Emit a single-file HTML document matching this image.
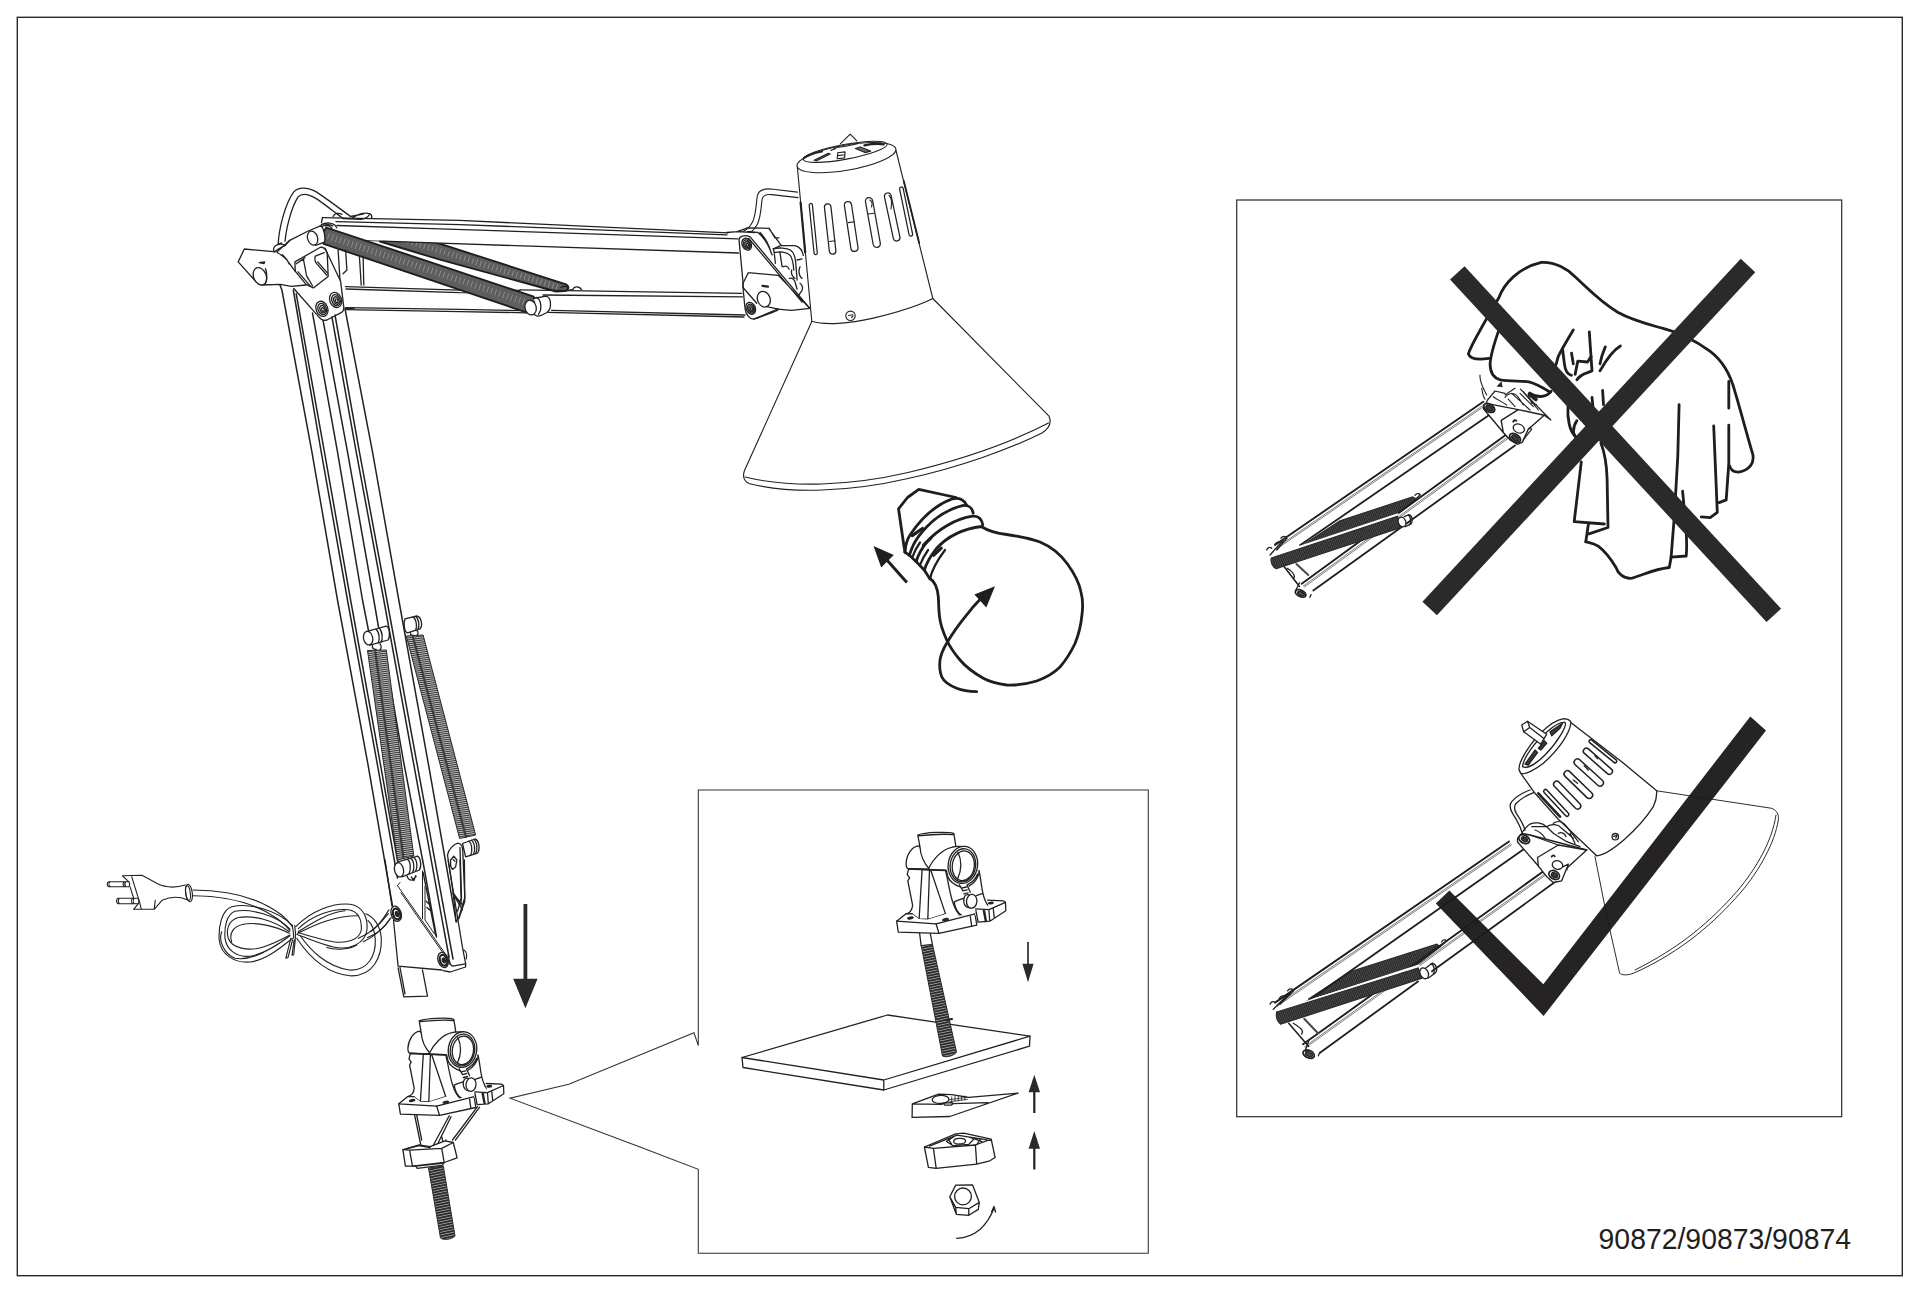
<!DOCTYPE html>
<html><head><meta charset="utf-8"><title>90872/90873/90874</title>
<style>
html,body{margin:0;padding:0;background:#fff;}
body{width:1920px;height:1294px;overflow:hidden;position:relative;font-family:"Liberation Sans",sans-serif;}
svg{position:absolute;left:0;top:0;display:block}
.l{fill:none;stroke:#222120;stroke-width:1.3;stroke-linecap:round;stroke-linejoin:round}
.t{fill:none;stroke:#2b2a29;stroke-width:0.8;stroke-linecap:round;stroke-linejoin:round}
.w{fill:#fff;stroke:#222120;stroke-width:1.3;stroke-linecap:round;stroke-linejoin:round}
.thin .l,.thin .w{stroke-width:1.12}
.bold .l,.bold .w{stroke-width:1.5}
.f{fill:none;stroke:#2b2a29;stroke-width:1.4}
.b{fill:none;stroke:#1f1e1d;stroke-width:2.8;stroke-linecap:round;stroke-linejoin:round}
.bw{fill:#fff;stroke:#1f1e1d;stroke-width:2.6;stroke-linecap:round;stroke-linejoin:round}
.k{fill:#2b2a29;stroke:none}
.sp{fill:#5f5e5d;stroke:#1f1e1d;stroke-width:1.9;stroke-linejoin:round}
.sp2{fill:url(#hatch2);stroke:#2b2a29;stroke-width:1}
.sp3{fill:url(#hatch3);stroke:#2b2a29;stroke-width:1.2}
.sd{fill:#3a3938;stroke:#2b2a29;stroke-width:1}
.num{font-family:"Liberation Sans",sans-serif;font-size:29px;fill:#1f1e1d}
</style></head><body>
<svg width="1920" height="1294" viewBox="0 0 1920 1294">
<defs>
<pattern id="hatch" width="1.9" height="4" patternUnits="userSpaceOnUse" patternTransform="rotate(18.4)"><rect width="1.9" height="4" fill="#807f7e"/><rect width="1.15" height="4" fill="#343332"/></pattern>
<pattern id="hatch2" width="4" height="2" patternUnits="userSpaceOnUse" patternTransform="rotate(-8)"><rect width="4" height="2" fill="#c4c4c4"/><rect width="4" height="1.0" fill="#333231"/></pattern>
<pattern id="thread" width="6" height="2.6" patternUnits="userSpaceOnUse" patternTransform="rotate(-12)"><rect width="6" height="2.6" fill="#9a9a9a"/><rect width="6" height="1.7" fill="#2b2a29"/></pattern>
<pattern id="hatch3" width="2" height="4" patternUnits="userSpaceOnUse" patternTransform="rotate(-22)"><rect width="2" height="4" fill="#6a6968"/><rect width="1.45" height="4" fill="#262524"/></pattern>
</defs>
<rect class="f" x="17.3" y="17.3" width="1885" height="1258.4"/>
<rect class="f" x="1236.7" y="200" width="605" height="916.7" style="stroke-width:1.2"/>
<path class="l" d="M 698.3,1045.6 L 698.3,790.0 L 1148.3,790.0 L 1148.3,1253.3 L 698.3,1253.3 L 698.3,1169.3 L 640.0,1147.0 L 510.0,1098.2 L 568.8,1084.2 L 694.0,1032.8 L 698.3,1045.6" style="stroke-width:1.05;stroke:#333231;stroke-linecap:butt;stroke-linejoin:miter"/>
<text class="num" x="1598.6" y="1249.2" textLength="252.4" lengthAdjust="spacingAndGlyphs">90872/90873/90874</text>
<g class="thin">
<path class="w" d="M 811.8,321.5 L 744.5,470.5 C 742.5,476.0 744.0,481.0 749.0,483.5 C 790.0,494.0 850.0,492.0 908.0,478.5 C 960.0,467.0 1010.0,449.0 1042.0,433.0 C 1049.0,428.5 1052.0,423.0 1049.0,416.2 L 932.8,298.5"/>
<path class="l" d="M 745.0,477.0 C 790.0,488.0 850.0,486.0 908.0,472.5 C 960.0,460.0 1010.0,443.0 1048.5,423.0"/>
<path class="w" d="M 797.3,166.5 L 811.8,321.3 C 825.0,325.5 850.0,323.5 872.2,318.4 C 895.0,313.0 918.0,306.0 932.8,298.5 L 896.0,150.5 Z"/>
<path class="l" d="M 903.8,181.0 L 919.2,243.0" style="stroke-width:1.8"/>
<ellipse class="w" cx="846.5" cy="157.6" rx="50.2" ry="12.6" transform="rotate(-9.9 846.5 157.6)"/>
<ellipse class="l" cx="845.2" cy="151.8" rx="42.6" ry="7.4" transform="rotate(-10.4 845.2 151.8)"/>
<path class="l" d="M 840.3,143.9 L 850.2,134.1 L 856.8,140.9"/>
<path class="l" d="M 804.0,157.9 C 808.3,155.1 815.8,152.5 822.0,151.4" style="stroke-width:2"/>
<path class="l" d="M 814.1,160.2 L 828.3,153.2 L 830.2,154.1 L 816.6,160.8 Z" style="fill:#6a6968"/>
<path class="l" d="M 837.7,152.8 L 845.1,151.9 L 844.6,157.9 L 837.2,158.8 Z M 837.7,155.6 L 844.9,154.7"/>
<path class="l" d="M 830.9,150.4 L 836.6,147.5 C 842.2,146.9 847.9,145.9 851.7,145.0 L 857.5,143.6 M 836.6,147.5 L 834.2,149.4"/>
<path class="l" d="M 855.4,148.5 L 860.1,147.0 L 870.7,151.1 L 865.0,152.6 Z" style="fill:#6a6968"/>
<path class="l" d="M 864.4,145.3 C 870.5,144.1 878.1,143.6 883.7,144.3" style="stroke-width:2.2"/>
<circle class="l" cx="850.5" cy="315.8" r="4.7"/>
<path class="l" d="M 848.5,315.5 L 852.8,314.8 M 851.5,317.6 L 853.0,316.0"/>
<path class="l" style="stroke-width:1.25" d="M809.2,205.3 L814.1,253.2 A1.6,1.6 0 0 0 817.3,252.8 L812.4,204.9 A1.6,1.6 0 0 0 809.2,205.3 Z"/>
<path class="l" style="stroke-width:1.25" d="M824.4,207.1 L829.4,251.7 A3.3,3.3 0 0 0 835.9,251.0 L830.9,206.4 A3.3,3.3 0 0 0 824.4,207.1 Z"/>
<path class="l" style="stroke-width:1.25" d="M844.4,205.6 L850.9,248.6 A3.6,3.6 0 0 0 858.0,247.5 L851.5,204.5 A3.6,3.6 0 0 0 844.4,205.6 Z"/>
<path class="l" style="stroke-width:1.25" d="M865.5,201.8 L873.2,244.5 A3.6,3.6 0 0 0 880.3,243.2 L872.6,200.5 A3.6,3.6 0 0 0 865.5,201.8 Z"/>
<path class="l" style="stroke-width:1.25" d="M884.4,196.6 L893.4,238.7 A3.4,3.4 0 0 0 900.0,237.3 L891.0,195.2 A3.4,3.4 0 0 0 884.4,196.6 Z"/>
<path class="l" style="stroke-width:1.25" d="M899.6,188.9 L909.1,234.9 A1.8,1.8 0 0 0 912.6,234.2 L903.1,188.2 A1.8,1.8 0 0 0 899.6,188.9 Z"/>
<path class="l" d="M 800.6,202.5 L 805.2,252.5" style="stroke-width:2.2"/>
<path class="l" d="M 829.5,241.5 L 835.0,240.8 M 848.3,222.6 L 854.3,221.8 M 868.0,214.0 L 874.0,213.2 M 869.8,200.0 C 872.0,201.0 872.5,204.0 871.5,207.0 M 889.0,195.5 C 891.5,197.5 892.0,203.0 891.0,209.0"/>
<path class="l" d="M 797.5,192.1 L 773.3,189.2 C 765.0,188.2 758.5,189.5 757.3,196.0 C 756.0,204.0 756.3,214.0 752.5,222.0 C 750.0,227.0 747.5,229.5 743.0,231.5"/>
<path class="l" d="M 798.0,197.6 L 771.7,194.6 C 766.0,194.0 762.5,195.5 762.0,200.0 C 761.0,208.0 761.0,216.0 757.5,224.0 C 755.5,228.0 753.5,230.5 750.5,232.5"/>
</g>
<path class="sp" d="M 380.0,224.5 L 566.0,284.3 C 569.5,286.0 569.0,290.0 565.0,291.0 L 556.0,291.5 L 440.0,259.7 L 380.0,241.5 Z"/>
<path class="l" d="M 384.0,233.5 L 560.0,288.0" style="stroke:#908f8e;stroke-width:6;stroke-dasharray:0.9 3.3;stroke-linecap:butt"/>
<path class="w" d="M 322.5,217.6 L 728.0,232.8 L 738.5,238.5 L 738.5,253.0 L 440.0,243.0 L 336.0,239.0 Z" style="stroke:none"/>
<path class="l" d="M 322.5,217.6 L 459.6,220.4 L 728.0,232.8"/>
<path class="l" d="M 336.0,221.6 L 460.0,224.6 L 727.0,234.8"/>
<path class="l" d="M 337.0,225.5 L 440.0,228.8 L 738.0,238.8"/>
<path class="l" d="M 383.0,241.2 L 440.0,243.2 L 738.5,253.0"/>
<path class="l" d="M 336.0,239.3 L 383.0,241.2" style="stroke-width:0.8"/>
<path class="l" d="M 345.5,286.6 L 459.6,290.2 L 520.0,290.3"/>
<path class="l" d="M 346.0,289.0 L 459.6,292.7 L 521.0,293.2"/>
<path class="l" d="M 345.5,307.6 L 459.6,309.4 L 524.0,310.6"/>
<path class="l" d="M 346.0,309.6 L 459.6,311.6 L 526.0,312.8"/>
<path class="l" d="M 520.0,289.8 L 741.7,293.4"/>
<path class="l" d="M 543.0,295.0 L 742.5,296.8"/>
<path class="l" d="M 551.7,310.4 L 745.0,315.0"/>
<path class="l" d="M 548.0,312.3 L 744.0,317.0"/>
<path class="sp" d="M 326.3,227.6 L 533.0,296.3 C 536.0,298.0 535.5,301.0 533.0,303.0 L 527.0,312.6 L 323.6,243.8 C 321.0,240.0 322.0,232.0 326.3,227.6 Z"/>
<path class="l" d="M 328.0,236.0 L 529.0,303.5" style="stroke:#908f8e;stroke-width:6.5;stroke-dasharray:0.9 3.3;stroke-linecap:butt"/>
<path class="l" d="M 400.0,248.0 L 566.0,303.0" style="stroke:#222;stroke-width:1.2;stroke-dasharray:2.2 3.4;display:none"/>
<ellipse class="w" cx="537.5" cy="309.0" rx="5.6" ry="7.2" transform="rotate(-15 537.5 309.0)"/>
<path class="w" d="M 533.5,298.5 L 546.0,296.2 C 551.0,297.0 552.5,308.0 547.0,312.5 L 541.0,315.5" style="fill:#fff"/>
<ellipse class="w" cx="530.6" cy="307.6" rx="5.6" ry="7.4" transform="rotate(-15 530.6 307.6)"/>
<path class="l" d="M 536.5,297.3 C 541.0,299.0 542.5,309.0 538.5,314.2"/>
<path class="l" d="M 561.0,287.5 C 563.0,285.8 567.0,286.0 568.5,288.0 M 573.0,289.3 C 574.0,286.0 579.5,286.0 581.5,289.6 M 566.0,290.8 L 573.0,289.3"/>
<path class="l" d="M 278.1,245.0 C 278.8,228.8 285.0,203.8 293.8,191.9 C 300.0,185.0 312.5,188.8 320.0,194.4 C 330.0,201.2 340.0,208.8 350.6,216.5"/>
<path class="l" d="M 285.0,243.1 C 285.6,230.0 291.2,207.5 298.1,196.9 C 302.5,191.9 311.2,195.0 317.5,199.4 C 326.2,205.6 335.0,212.5 343.1,218.5"/>
<path class="l" d="M 333.1,216.5 C 334.4,213.1 338.8,212.5 341.9,214.4 M 352.5,218.1 C 357.5,213.8 365.0,211.9 370.0,213.8 C 371.9,215.0 372.2,216.5 371.5,218.1 M 350.6,216.5 L 363.8,213.8 M 343.1,218.5 L 361.2,219.4 C 365.0,218.8 368.1,217.5 370.0,213.8"/>
<path class="w" d="M 238.8,260.2 L 245.0,249.0 L 273.8,251.5 L 275.6,246.0 L 290.0,239.5 L 307.5,232.2 L 320.0,243.8 L 324.8,248.1 L 340.6,281.2 L 343.8,307.2 C 344.0,310.6 343.1,311.9 340.2,313.1 L 326.9,320.0 C 323.1,321.0 320.6,319.4 318.8,316.9 L 293.8,288.5 L 280.6,283.1 L 266.2,284.4 L 255.0,282.1 Z" style="stroke:none"/>
<path class="l" d="M 324.8,248.1 L 340.6,281.2 L 343.8,307.2 C 344.0,310.6 343.1,311.9 340.2,313.1 L 326.9,320.0 C 323.1,321.0 320.6,319.4 318.8,316.9 L 293.8,288.5"/>
<path class="l" d="M 273.5,251.7 L 244.3,249.0 L 238.2,261.9 L 255.8,281.6 L 262.6,285.0 L 280.3,284.4 L 291.2,286.4 L 306.1,285.0"/>
<ellipse class="w" cx="259.9" cy="276.3" rx="6.3" ry="9.0" transform="rotate(-22 259.9 276.3)"/>
<path class="l" d="M 265.4,268.7 C 267.1,271.4 267.4,279.6 265.4,283.7"/>
<path class="l" d="M 259.2,262.6 L 264.7,261.9 L 264.0,263.6 Z" style="fill:#222120"/>
<path class="l" d="M 274.2,251.7 C 272.5,249.0 274.2,245.6 277.6,244.6 C 280.3,243.9 283.7,244.2 285.1,245.6 M 274.9,252.1 C 276.9,249.0 281.7,247.0 285.1,245.6 M 285.1,245.6 L 289.8,240.3 M 277.6,244.6 L 281.7,242.9"/>
<path class="l" d="M 276.9,252.1 L 289.8,240.3 L 309.2,230.5 M 277.6,252.7 C 281.7,255.1 286.4,258.5 288.8,262.6 L 295.3,271.4 M 276.9,252.1 L 277.6,252.7 M 282.4,254.8 C 285.1,257.2 287.8,260.6 289.2,264.0"/>
<path class="w" d="M 309.5,230.5 L 320.4,225.9 C 323.8,227.2 325.9,237.4 324.5,242.2 L 315.7,245.3 Z"/>
<ellipse class="w" cx="312.6" cy="238.1" rx="5.0" ry="7.2" transform="rotate(-18 312.6 238.1)"/>
<path class="l" d="M 320.4,225.9 C 321.8,223.8 326.5,222.5 329.9,223.2 C 333.3,223.8 336.1,225.9 336.7,227.9 M 321.8,226.9 C 324.5,224.2 329.3,223.8 332.7,225.9 M 325.2,225.9 C 327.9,225.2 330.6,226.2 332.0,228.3"/>
<path class="l" d="M 294.9,261.9 L 320.4,247.3 C 323.8,246.8 326.5,249.7 327.2,253.1 L 328.2,276.5 L 313.3,287.9 L 306.1,284.4 L 295.3,271.4 Z"/>
<path class="l" d="M 296.3,263.8 L 303.4,258.9 L 306.5,275.5 L 312.6,286.0 M 298.0,271.8 L 310.6,286.4 M 303.4,258.9 L 304.8,257.7 M 315.3,256.1 L 324.2,252.7 M 315.3,256.1 C 314.4,259.2 315.0,261.9 316.7,263.6 L 326.9,275.2 M 317.7,261.9 L 327.4,272.9 M 306.5,275.5 L 308.2,278.9"/>
<ellipse class="l" cx="321.9" cy="308.8" rx="5.8" ry="7.8" transform="rotate(-22 321.9 308.8)"/>
<ellipse class="l" cx="322.2" cy="309.0" rx="4.1" ry="5.8" transform="rotate(-22 322.2 309.0)"/>
<ellipse class="l" cx="322.6" cy="309.2" rx="2.5" ry="3.8" transform="rotate(-22 322.6 309.2)"/>
<ellipse class="l" cx="322.9" cy="309.5" rx="1.2" ry="2.0" transform="rotate(-22 322.9 309.5)"/>
<ellipse class="l" cx="335.6" cy="300.0" rx="5.8" ry="7.8" transform="rotate(-22 335.6 300.0)"/>
<ellipse class="l" cx="336.0" cy="300.2" rx="4.1" ry="5.8" transform="rotate(-22 336.0 300.2)"/>
<ellipse class="l" cx="336.4" cy="300.5" rx="2.5" ry="3.8" transform="rotate(-22 336.4 300.5)"/>
<ellipse class="l" cx="336.6" cy="300.8" rx="1.2" ry="2.0" transform="rotate(-22 336.6 300.8)"/>
<path class="l" d="M 322.5,217.5 L 321.5,222.5 M 338.1,250.0 L 340.0,280.0 M 345.6,250.0 L 346.9,270.0 L 343.1,273.8 M 359.4,256.2 L 361.2,285.0 M 363.1,256.2 L 363.8,285.0 M 345.0,308.8 L 354.4,308.1"/>
<g class="bold">
<path class="l" d="M 280.0,285.0 L 281.9,290.0 L 311.9,451.8 L 337.5,600.0 L 367.5,761.8 L 392.5,906.0"/>
<path class="l" d="M 293.3,290.0 L 321.2,451.8 L 347.5,600.0 L 376.9,761.8 L 397.5,878.0"/>
<path class="l" d="M 296.2,293.8 L 324.4,451.8 L 350.6,600.0 L 380.0,761.8 L 398.5,866.0"/>
<path class="l" d="M 312.5,313.1 L 337.5,451.8 L 362.5,600.0 L 368.6,631.0"/>
<path class="l" d="M 323.1,320.6 L 347.5,451.8 L 373.8,600.0 L 378.5,627.0"/>
<path class="l" d="M 331.9,316.9 L 356.2,451.8 L 383.8,600.0 L 413.3,761.8 L 442.5,921.8 L 449.0,957.0"/>
<path class="l" d="M 335.0,315.0 L 359.4,451.8 L 386.9,600.0 L 416.7,761.8 L 446.2,921.8 L 453.0,959.0"/>
<path class="l" d="M 345.0,308.8 L 372.5,451.8 L 398.8,600.0 L 428.0,761.8 L 456.2,921.8"/>
<path class="l" d="M 391.0,690.0 L 403.6,761.8 L 423.0,862.0 L 433.8,921.8 L 436.5,937.0"/>
</g>
<path class="sp2" d="M 367.5,650.5 L 386.3,650.0 L 413.8,856.0 L 397.5,860.0 Z"/>
<path class="l" d="M 375.3,652.0 L 403.5,858.0" style="stroke:#2a2928;stroke-width:2.2;opacity:.75"/>
<path class="sp2" d="M 406.3,636.0 L 423.1,635.0 L 475.6,835.0 L 459.6,838.5 Z"/>
<path class="l" d="M 413.0,637.0 L 466.0,837.0" style="stroke:#2a2928;stroke-width:2.2;opacity:.75"/>
<path class="w" d="M 368.1,631.2 L 386.2,626.2 C 389.4,626.9 390.6,636.2 388.1,640.0 L 370.0,645.2 Z"/>
<ellipse class="w" cx="368.1" cy="638.1" rx="4.6" ry="6.9" transform="rotate(-12 368.1 638.1)"/>
<path class="l" d="M 376.2,629.4 C 379.4,631.9 380.0,640.0 378.1,643.1 M 379.4,628.5 C 382.5,631.2 383.1,639.4 381.0,642.2"/>
<path class="l" d="M 372.5,645.6 C 371.9,648.1 373.8,649.8 376.2,649.4 M 380.0,643.8 C 381.9,646.2 381.2,648.8 380.0,649.8"/>
<path class="w" d="M 405.0,618.8 L 416.9,616.0 C 421.2,616.9 423.1,625.0 420.0,628.8 L 407.5,632.8 C 404.4,631.9 403.1,623.8 405.0,618.8 Z"/>
<path class="l" d="M 413.1,617.1 C 416.2,618.8 417.5,626.9 415.6,630.2 M 415.6,616.5 C 419.0,618.8 419.8,626.2 417.8,629.8"/>
<path class="l" d="M 410.6,632.8 C 410.0,634.4 411.2,635.6 413.1,635.2 M 416.9,630.6 C 418.8,632.2 418.1,634.4 416.9,635.2"/>
<path class="w" d="M 398.1,861.9 L 417.5,856.2 C 420.6,857.5 421.9,866.2 419.4,870.0 L 401.9,876.9 Z"/>
<ellipse class="w" cx="399.0" cy="869.8" rx="4.5" ry="7.2" transform="rotate(-12 399.0 869.8)"/>
<path class="l" d="M 407.5,859.4 C 410.6,861.2 411.2,870.0 409.0,873.8 M 411.0,858.5 C 414.0,860.6 414.8,869.0 412.5,872.5 M 414.0,857.8 C 417.2,860.0 417.8,868.1 415.6,871.2"/>
<path class="l" d="M 406.9,875.6 C 407.5,878.8 410.0,880.6 412.5,880.0 L 416.2,876.2 M 411.2,876.9 L 414.0,880.6 L 415.6,875.6"/>
<path class="w" d="M 462.5,843.5 L 475.0,839.0 C 478.8,840.0 480.6,848.8 477.5,853.1 L 465.6,856.9 Z"/>
<path class="l" d="M 468.8,841.2 C 471.9,843.1 472.8,851.9 470.6,855.2 M 471.5,840.2 C 474.8,842.5 475.6,851.0 473.5,854.4 M 473.8,839.5 C 477.2,841.9 477.9,850.0 475.6,853.5"/>
<path class="w" d="M 447.5,855.0 C 448.1,850.0 453.8,843.8 458.1,843.1 C 461.2,843.5 462.8,847.5 462.8,851.2 L 464.8,897.5 L 458.8,917.5 L 456.2,921.8 L 453.1,892.5 Z"/>
<path class="l" d="M 450.6,860.0 L 453.8,856.2 L 456.9,860.0 L 455.6,866.9 L 452.5,869.4 L 450.6,866.2 Z M 453.1,859.4 L 455.0,861.2"/>
<path class="l" d="M 460.0,847.5 L 461.5,897.5 L 457.5,911.2 M 453.1,892.5 L 461.2,905.0"/>
<g class="thin">
<path class="l" d="M 108.7,881.7 L 128.7,881.7 C 130.0,882.5 130.0,885.8 128.7,886.7 L 108.7,886.7 C 106.7,885.8 106.7,882.5 108.7,881.7 Z M 110.0,881.7 C 108.7,883.0 108.7,885.3 110.0,886.7 M 124.2,881.7 C 123.0,883.0 123.0,885.3 124.2,886.7 M 125.8,881.7 C 124.7,883.0 124.7,885.3 125.8,886.7"/>
<path class="l" d="M 118.0,898.3 L 138.0,898.3 C 139.3,899.2 139.3,902.8 138.0,903.7 L 118.0,903.7 C 116.0,902.8 116.0,899.2 118.0,898.3 Z M 119.3,898.3 C 118.0,899.7 118.0,902.3 119.3,903.7 M 132.5,898.3 C 131.3,899.7 131.3,902.3 132.5,903.7 M 134.2,898.3 C 133.0,899.7 133.0,902.3 134.2,903.7"/>
<path class="l" d="M 122.5,875.8 L 142.0,875.3 L 156.7,883.3 C 163.3,886.7 173.3,888.7 185.3,885.0 M 133.7,909.3 L 154.2,909.3 L 162.0,900.3 C 168.3,897.5 176.7,895.3 187.0,899.7 M 122.5,875.8 L 128.7,881.7 M 130.0,886.7 L 133.7,898.3 M 138.3,903.7 L 133.7,909.3 M 131.7,876.7 L 140.0,903.7 L 141.3,909.3 M 154.2,909.3 L 155.3,900.3"/>
<ellipse class="l" cx="189.0" cy="893.0" rx="3.3" ry="8.7" transform="rotate(-8 189.0 893.0)"/>
<ellipse class="l" cx="188.0" cy="893.0" rx="2.3" ry="7.3" transform="rotate(-8 188.0 893.0)"/>
<path class="l" d="M 193.0,890.0 C 223.3,890.0 256.7,895.8 281.7,915.0 C 287.5,920.0 290.8,924.2 292.5,926.7"/>
<path class="l" d="M 193.3,895.7 C 223.3,896.0 253.3,901.7 276.7,918.3 C 283.3,923.3 288.3,928.3 290.0,930.8"/>
<path class="l" d="M 292.5,925.8 C 278.3,910.0 248.3,902.5 231.7,906.7 C 221.7,910.0 218.3,926.7 219.2,940.0 C 220.8,955.0 235.0,963.3 250.0,962.0 C 266.7,960.0 281.7,946.7 292.5,938.3"/>
<path class="l" d="M 290.0,929.2 C 276.7,915.0 250.0,908.3 235.0,911.3 C 226.7,914.2 224.2,926.7 225.0,938.3 C 226.7,950.0 236.7,957.5 250.0,956.3 C 265.0,954.2 280.0,943.3 290.0,935.8"/>
<path class="l" d="M 289.2,931.7 C 273.3,920.0 253.3,915.0 238.3,917.5 C 228.3,920.3 225.8,930.0 228.3,938.3 C 231.7,948.3 248.3,951.7 263.3,947.0 C 275.0,943.3 283.3,938.7 290.0,935.0"/>
<path class="l" d="M 289.2,933.3 C 275.0,925.8 256.7,922.0 243.3,924.2 C 231.7,926.7 229.2,935.0 231.7,941.7 M 221.7,931.7 C 218.3,940.0 223.3,953.3 235.0,958.3 C 245.0,960.0 256.7,955.8 263.3,952.5"/>
<path class="l" d="M 295.8,926.7 C 310.0,911.7 331.7,902.5 350.0,904.2 C 363.3,905.8 368.0,918.3 367.0,930.0 C 365.0,943.3 350.0,950.8 333.3,947.0 C 318.3,943.3 305.0,937.0 296.7,934.5"/>
<path class="l" d="M 298.3,928.7 C 311.7,915.8 331.7,908.3 348.3,909.7 C 358.3,910.8 362.0,920.0 361.3,930.0 C 359.7,939.7 346.7,943.7 333.3,941.7 C 320.0,939.3 306.7,935.0 298.3,932.8"/>
<path class="l" d="M 296.7,938.3 C 306.7,953.3 323.3,973.3 350.0,975.8 C 373.3,976.7 382.0,956.7 381.3,938.3 C 380.3,925.0 373.3,916.7 365.8,913.7"/>
<path class="l" d="M 300.3,935.8 C 310.0,950.0 326.7,966.7 349.2,970.0 C 368.3,971.3 376.0,955.0 375.3,939.2 C 374.7,930.0 372.0,924.2 368.0,920.3"/>
<path class="l" d="M 297.5,933.3 C 311.7,926.7 331.7,915.8 358.3,915.8 M 298.3,931.7 C 311.7,923.3 330.0,911.7 345.0,910.8 M 326.7,947.5 C 336.7,950.8 350.0,949.2 356.7,945.0"/>
<path class="l" d="M 363.3,941.7 C 373.3,937.5 383.3,928.3 391.3,917.5 M 358.3,938.3 C 371.7,933.3 380.8,923.3 388.3,913.7"/>
<path class="l" d="M 292.0,924.7 C 293.0,928.3 293.7,933.3 293.7,938.3 M 294.7,925.3 C 295.3,929.2 295.8,934.2 295.3,938.7 M 290.8,938.3 L 285.8,958.3 L 288.0,957.5 L 292.5,940.0 M 294.2,939.7 L 292.0,955.3 L 293.7,954.7 L 295.3,939.7"/>
</g>
<path class="l" d="M 385.0,860.0 L 391.9,905.6 M 393.5,920.0 L 398.1,966.2 L 441.9,970.0 M 443.1,970.6 L 450.2,972.0 L 465.6,967.0 L 465.6,963.5 L 462.5,947.5 L 448.1,860.0"/>
<path class="l" d="M 398.1,967.8 L 403.8,996.9 L 427.5,996.2 L 422.5,970.0 M 400.0,967.5 L 405.0,993.8"/>
<path class="l" d="M 423.1,872.5 L 435.6,935.0 M 426.2,901.2 L 430.0,905.0 M 426.9,907.5 L 431.2,911.2 M 448.1,955.0 L 450.2,964.4"/>
<path class="l" d="M 397.5,885.6 L 400.0,882.5 M 397.5,885.6 L 446.9,956.2 M 401.0,892.8 L 442.5,952.2 M 422.5,918.8 L 422.5,871.2 M 425.0,886.2 L 425.0,920.0 L 434.4,933.8" style="stroke-width:1"/>
<ellipse class="w" cx="396.2" cy="913.8" rx="5.0" ry="7.8" transform="rotate(-18 396.2 913.8)"/>
<ellipse class="l" cx="396.6" cy="914.0" rx="3.5" ry="5.5" transform="rotate(-18 396.6 914.0)" style="stroke-width:2.2"/>
<ellipse class="l" cx="397.0" cy="914.1" rx="1.5" ry="2.5" transform="rotate(-18 397.0 914.1)" style="fill:#2b2a29"/>
<ellipse class="w" cx="443.1" cy="960.0" rx="5.0" ry="7.8" transform="rotate(-18 443.1 960.0)"/>
<ellipse class="l" cx="443.5" cy="960.2" rx="3.5" ry="5.5" transform="rotate(-18 443.5 960.2)" style="stroke-width:2.2"/>
<ellipse class="l" cx="443.9" cy="960.4" rx="1.5" ry="2.5" transform="rotate(-18 443.9 960.4)" style="fill:#2b2a29"/>
<path class="l" d="M 450.0,963.8 L 452.5,966.2 L 465.6,963.8 M 463.8,950.0 C 466.2,951.2 467.2,955.0 466.2,958.8"/>
<path class="l" d="M 464.4,860.0 L 464.8,901.2 L 458.8,918.8 M 453.1,893.8 L 462.5,910.0 M 455.0,896.2 L 463.1,905.0 M 460.0,860.0 L 461.2,901.2"/>
<path class="l" d="M 388.8,910.0 C 385.0,916.2 380.0,925.0 371.2,931.2 M 390.0,918.8 C 385.0,927.5 377.5,933.8 367.5,937.5"/>
<path class="k" d="M 523.5,904.0 L 527.3,904.0 L 527.3,978.8 L 537.6,978.8 L 525.4,1008.3 L 513.2,978.8 L 523.5,978.8 Z"/>
<path class="w" d="M 420.0,1031.2 C 413.3,1031.7 408.3,1040.0 407.9,1048.3 C 407.9,1051.7 408.8,1053.3 410.4,1053.3 L 430.0,1053.8 L 421.2,1032.5 Z"/>
<path class="w" d="M 419.2,1020.8 C 426.7,1018.3 446.7,1017.3 453.8,1019.3 L 455.8,1031.8 C 451.7,1032.5 438.3,1040.0 430.0,1053.2 C 425.4,1048.3 421.7,1040.0 421.2,1032.5 Z"/>
<path class="l" d="M 419.6,1021.7 C 430.0,1020.5 446.7,1019.8 453.5,1020.5"/>
<path class="w" d="M 429.3,1053.2 C 433.3,1045.0 441.7,1035.0 451.7,1032.7 C 455.0,1031.8 460.0,1031.7 463.3,1032.1 L 463.3,1067.1 L 452.5,1066.2 L 446.7,1055.0 Z" style="stroke:none"/>
<path class="l" d="M 429.3,1053.2 C 433.3,1045.0 441.7,1035.0 451.7,1032.7 C 455.0,1031.8 460.0,1031.7 463.3,1032.1"/>
<path class="w" d="M 477.9,1055.0 C 480.4,1063.3 480.0,1075.8 484.2,1084.2 C 485.8,1088.3 488.3,1090.8 491.2,1090.0 L 475.0,1095.8 L 460.0,1098.3 C 455.0,1093.3 452.5,1080.0 446.7,1058.3 Z" style="stroke:none"/>
<path class="l" d="M 477.9,1055.0 C 480.4,1063.3 480.0,1075.8 484.2,1084.2 C 485.8,1088.3 488.3,1090.8 491.2,1090.0"/>
<ellipse class="w" cx="462.5" cy="1049.6" rx="14.2" ry="17.9" transform="rotate(8 462.5 1049.6)"/>
<ellipse class="l" cx="462.5" cy="1050.0" rx="12.2" ry="16.0" transform="rotate(8 462.5 1050.0)"/>
<ellipse class="l" cx="462.9" cy="1050.4" rx="10.6" ry="14.3" transform="rotate(8 462.9 1050.4)"/>
<path class="l" d="M 457.9,1037.7 C 461.5,1045.0 461.5,1055.0 457.5,1062.7"/>
<path class="l" d="M 447.5,1060.0 C 449.2,1064.2 453.3,1068.3 460.0,1070.8 M 476.7,1058.3 C 474.6,1063.3 470.4,1067.1 466.7,1068.8 M 446.7,1055.0 C 447.1,1058.3 447.9,1061.7 450.0,1064.6 M 478.3,1055.8 C 477.5,1061.7 473.3,1067.5 468.3,1070.0"/>
<path class="w" d="M 410.4,1053.3 L 445.8,1054.8 L 447.5,1062.5 C 450.8,1080.0 453.3,1091.7 460.0,1098.3 L 428.8,1102.1 L 420.4,1101.7 L 413.8,1096.7 L 407.5,1096.7 C 411.7,1095.8 413.8,1093.3 414.2,1088.3 L 409.6,1065.0 L 411.2,1062.1 L 409.0,1058.8 Z"/>
<path class="l" d="M 423.3,1054.2 L 420.4,1101.7 M 430.4,1054.6 L 428.8,1102.1 M 431.7,1054.8 L 445.8,1096.7 M 420.4,1101.7 L 428.8,1102.1 L 445.8,1096.7"/>
<path class="l" d="M 410.4,1053.3 L 445.8,1054.8" style="stroke-width:1.8"/>
<path class="l" d="M 459.2,1068.8 L 462.5,1074.6 M 466.7,1069.3 L 469.6,1075.8 M 462.5,1074.6 L 466.7,1073.5 M 463.3,1077.5 L 467.5,1076.5 M 462.1,1071.7 L 465.8,1070.8"/>
<path class="w" d="M 468.3,1078.3 C 465.0,1077.5 462.9,1080.0 463.3,1085.0 C 463.8,1089.2 466.7,1091.2 469.6,1090.8 Z"/>
<ellipse class="w" cx="471.0" cy="1084.6" rx="5.0" ry="6.7" transform="rotate(5 471.0 1084.6)"/>
<path class="l" d="M 454.2,1085.2 C 457.5,1083.5 460.0,1082.7 463.3,1081.8 M 475.0,1079.3 C 477.5,1078.5 480.0,1077.7 481.5,1077.2 M 454.2,1085.2 C 455.0,1091.7 458.3,1096.7 462.1,1098.5"/>
<path class="w" d="M 398.8,1103.8 L 407.5,1096.7 L 413.8,1096.7 L 420.4,1101.7 L 428.8,1102.1 L 445.8,1096.7 L 460.0,1098.3 L 475.0,1095.7 L 474.2,1096.7 L 477.1,1104.6 L 439.6,1115.4 L 400.4,1114.2 Z" style="stroke:none"/>
<path class="l" d="M 413.8,1096.7 L 407.5,1096.7 L 398.8,1103.8 L 436.7,1106.2 L 474.2,1096.7 L 475.2,1095.5"/>
<path class="l" d="M 398.8,1103.8 L 400.4,1114.2 L 439.6,1115.4 L 436.7,1106.2 M 439.6,1115.4 L 475.8,1107.5 L 474.2,1096.7 M 469.6,1099.2 L 470.8,1107.9"/>
<ellipse class="l" cx="412.1" cy="1100.5" rx="2.7" ry="0.8" transform="rotate(-12 412.1 1100.5)" style="fill:#2b2a29"/>
<ellipse class="l" cx="445.8" cy="1102.2" rx="2.7" ry="0.8" transform="rotate(-12 445.8 1102.2)" style="fill:#2b2a29"/>
<path class="w" d="M 485.8,1083.5 L 501.7,1084.2 L 503.5,1085.5 L 503.8,1093.8 L 488.3,1103.8 L 477.1,1104.6 L 474.2,1096.7 L 475.0,1093.3 L 487.5,1092.5 Z" style="stroke:none"/>
<path class="l" d="M 486.2,1083.5 L 501.7,1084.2 L 503.5,1085.5 L 487.5,1092.7 L 474.6,1091.8 M 503.5,1085.5 L 503.8,1093.8 L 488.3,1103.8 L 477.1,1104.6 M 487.5,1092.7 L 488.3,1103.8 M 483.3,1093.5 L 485.2,1104.0 M 491.7,1090.8 L 492.7,1100.8 M 482.1,1093.3 L 484.2,1104.2 M 475.0,1093.3 L 477.1,1104.6"/>
<ellipse class="l" cx="489.3" cy="1086.3" rx="2.3" ry="0.8" transform="rotate(-5 489.3 1086.3)" style="fill:#2b2a29"/>
<path class="l" d="M 414.6,1115.0 L 420.8,1145.0 M 416.7,1115.0 L 421.7,1140.0"/>
<path class="l" d="M 449.2,1115.8 L 432.5,1146.7 M 451.0,1116.7 L 437.5,1144.2 M 477.5,1106.7 L 452.5,1140.0 M 479.6,1107.1 L 455.4,1140.2 M 441.7,1136.7 L 443.3,1143.3 M 445.8,1140.0 L 446.7,1144.2"/>
<path class="w" d="M 402.9,1149.6 L 418.3,1145.0 L 430.0,1146.7 L 445.0,1140.8 L 453.3,1142.5 L 457.1,1157.9 L 444.2,1162.5 L 442.1,1165.4 L 417.1,1168.3 L 415.8,1166.0 L 412.5,1166.2 L 405.4,1166.2 Z"/>
<path class="l" d="M 402.9,1149.6 L 409.6,1150.2 L 441.7,1148.3 L 453.3,1142.5 M 409.6,1150.2 L 412.5,1166.2 L 444.2,1162.5 L 441.7,1148.3 M 406.7,1148.8 L 419.2,1145.7 L 430.0,1147.5 M 415.8,1166.0 L 442.1,1163.3"/>
<path class="sd" d="M 428.5,1168.0 L 443.3,1166.0 L 455.0,1236.0 C 452.0,1239.5 443.0,1240.5 440.5,1238.0 Z" style="fill:url(#thread)"/>
<path class="w" d="M 739.0,239.6 C 739.3,236.2 744.2,234.8 748.8,236.3 L 750.4,237.1 L 778.3,270.8 L 809.8,308.3 L 791.7,310.4 L 777.5,309.2 L 753.8,319.2 C 749.2,318.8 745.8,314.2 745.0,308.3 L 742.9,286.7 L 743.2,284.2 Z"/>
<path class="l" d="M 748.8,238.5 L 802.1,302.1 M 748.3,272.7 L 742.9,283.5 L 743.2,287.7 L 756.7,303.3 M 748.3,272.7 L 778.3,275.4 L 809.8,308.3 M 766.7,306.7 L 778.3,309.2"/>
<ellipse class="w" cx="763.8" cy="299.2" rx="6.3" ry="8.0" transform="rotate(-20 763.8 299.2)"/>
<path class="l" d="M 762.5,285.8 L 767.9,286.7" style="stroke-width:2.2"/>
<ellipse class="l" cx="746.7" cy="244.2" rx="4.5" ry="6.2" transform="rotate(-25 746.7 244.2)"/>
<ellipse class="l" cx="746.9" cy="244.4" rx="3.3" ry="4.7" transform="rotate(-25 746.9 244.4)"/>
<ellipse class="l" cx="747.2" cy="244.6" rx="2.2" ry="3.2" transform="rotate(-25 747.2 244.6)"/>
<ellipse class="l" cx="747.3" cy="244.8" rx="1.0" ry="1.7" transform="rotate(-25 747.3 244.8)"/>
<ellipse class="l" cx="750.8" cy="308.3" rx="4.5" ry="6.2" transform="rotate(-25 750.8 308.3)"/>
<ellipse class="l" cx="751.1" cy="308.6" rx="3.3" ry="4.7" transform="rotate(-25 751.1 308.6)"/>
<ellipse class="l" cx="751.3" cy="308.8" rx="2.2" ry="3.2" transform="rotate(-25 751.3 308.8)"/>
<ellipse class="l" cx="751.5" cy="308.9" rx="1.0" ry="1.7" transform="rotate(-25 751.5 308.9)"/>
<path class="l" d="M 753.8,319.2 L 777.5,310.4 M 756.7,318.3 L 773.3,312.1"/>
<path class="l" d="M 726.7,232.5 L 737.1,231.7 L 747.5,227.9 L 768.8,228.3 L 781.2,245.4 M 769.2,228.3 L 775.0,237.9 L 778.8,237.9 M 736.7,231.7 L 755.0,232.5 M 747.5,231.7 L 757.5,232.3 C 763.3,236.7 768.8,245.0 772.1,255.0 M 760.0,232.5 C 765.0,237.5 769.2,245.0 771.0,252.5 M 773.3,248.8 L 781.2,245.4 L 795.0,245.7 C 799.2,246.8 802.5,250.8 803.3,255.4"/>
<path class="l" d="M 773.3,248.8 C 778.3,247.5 786.7,247.7 790.8,250.2 C 794.2,252.7 795.4,257.5 795.8,263.3 L 797.1,280.0 M 774.2,252.7 C 780.0,251.0 786.7,251.8 790.0,255.2 C 792.5,258.3 793.3,263.3 793.8,270.0 M 773.3,248.8 L 774.2,252.7 L 775.4,263.3 M 780.0,252.9 L 782.1,266.7 M 783.3,266.7 C 785.8,265.4 788.3,266.7 789.2,269.2 M 791.7,270.0 C 790.8,273.3 792.5,277.5 795.0,278.3 M 800.0,266.7 C 798.3,270.0 798.8,276.7 802.1,278.3 M 789.2,278.3 C 792.5,277.5 795.0,280.0 795.4,283.3 L 797.1,289.2 M 797.1,260.0 L 802.1,258.8 M 800.0,283.3 C 802.5,285.0 803.3,288.3 801.7,290.8 L 798.3,295.8"/>
<path class="b" d="M 956.2,497.5 L 918.8,489.4 L 907.5,497.5 L 898.5,508.8 L 903.8,545.0 L 905.0,552.2"/>
<path class="b" d="M 905.0,552.2 C 905.6,542.5 907.5,538.8 910.0,535.0 C 920.0,520.0 935.0,505.0 952.5,498.8 C 960.0,497.2 965.0,500.6 966.5,505.0"/>
<path class="b" d="M 909.4,555.2 C 912.5,545.0 915.0,541.2 918.8,536.2 C 930.0,521.2 945.0,510.0 962.5,505.6 C 968.8,504.8 972.5,508.5 973.2,513.1"/>
<path class="b" d="M 916.2,561.5 C 918.8,552.5 922.5,547.5 927.5,541.2 C 937.5,530.0 955.0,518.8 972.5,516.2 C 978.8,515.4 981.9,519.8 982.8,524.8"/>
<path class="b" d="M 924.4,570.2 C 926.9,561.2 931.2,555.0 936.2,548.8 C 947.5,536.2 962.5,528.8 981.9,526.5"/>
<path class="b" d="M 905.0,552.2 L 910.0,555.8 L 916.5,561.9 L 924.4,570.2 L 930.0,579.0"/>
<path class="b" d="M 930.0,579.0 C 931.9,568.8 937.5,560.0 945.0,550.0" style="stroke-width:2.2"/>
<path class="b" d="M 912.2,535.6 L 922.5,528.5 M 923.5,545.2 L 931.0,537.8 M 933.8,555.2 L 941.2,548.2" style="stroke-width:3.2"/>
<path class="b" d="M 912.5,556.9 C 915.0,550.0 916.9,546.9 920.0,542.5 M 920.0,565.0 C 922.5,558.1 925.0,554.4 928.1,550.0" style="stroke-width:2.2"/>
<path class="b" d="M 982.0,527.0 C 990.0,532.0 998.0,533.5 1006.7,534.5 C 1020.0,536.5 1030.0,538.5 1040.0,542.0 C 1052.0,547.0 1061.0,555.0 1067.5,564.0 C 1074.0,573.0 1079.0,582.0 1081.0,592.0 C 1083.0,600.0 1083.0,607.0 1082.0,614.5 C 1081.0,625.0 1079.0,634.0 1075.0,643.5 C 1071.0,652.0 1066.0,660.0 1060.0,667.0 C 1053.0,674.0 1045.0,678.0 1036.7,681.0 C 1027.0,684.0 1017.0,685.5 1006.7,685.0 C 998.0,684.0 990.0,682.0 983.3,678.3 C 974.0,673.0 966.0,667.0 960.0,660.0 C 954.0,653.0 950.0,647.0 946.7,640.0 C 943.0,632.0 940.5,625.0 939.5,616.7 C 938.5,608.0 938.7,603.0 938.3,596.7 C 937.5,588.0 934.0,581.0 930.0,578.5"/>
<path class="b" d="M 976.7,691.7 C 968.0,691.5 962.0,690.5 956.7,688.3 C 949.0,685.0 944.0,682.0 941.7,676.7 C 939.5,671.0 939.3,666.0 940.0,660.0 C 941.0,654.0 943.5,648.5 946.7,643.3 C 950.5,636.5 955.0,630.0 960.0,623.3 C 964.5,617.5 969.0,612.0 973.3,606.7 C 977.0,602.5 980.0,599.5 983.0,596.5"/>
<path class="k" d="M 995.0,586.2 L 974.4,594.4 L 986.3,607.5 Z" style="fill:#1f1e1d"/>
<path class="b" d="M 886.9,560.0 L 906.9,582.5" style="stroke-width:2.9;stroke-linecap:butt"/>
<path class="k" d="M 873.5,545.9 L 893.8,555.0 L 881.2,567.5 Z" style="fill:#1f1e1d"/>
<path class="w" d="M 742.0,1057.5 L 887.5,1015.0 L 1030.0,1036.2 L 1029.5,1046.2 L 883.8,1090.0 L 743.0,1067.5 Z"/>
<path class="l" d="M 742.0,1057.5 L 883.8,1080.0 L 1030.0,1036.2 M 883.8,1080.0 L 883.8,1090.0"/>
<path class="w" d="M 919.2,930.0 L 929.5,929.5 L 932.5,945.0 L 921.2,946.0 Z"/>
<path class="sd" d="M 921.2,945.5 L 932.5,944.5 L 956.5,1052.0 C 955.0,1055.5 946.2,1058.0 942.5,1056.0 Z" style="fill:url(#thread)"/>
<path class="l" d="M 946.2,1020.0 L 952.0,1019.0" style="stroke-width:2.2"/>
<path class="w" d="M 918.7,845.8 C 911.7,846.3 906.5,854.9 906.1,863.6 C 906.1,867.1 907.0,868.8 908.7,868.8 L 929.1,869.2 L 920.0,847.1 Z"/>
<path class="w" d="M 917.8,835.0 C 925.6,832.4 946.4,831.4 953.8,833.4 L 955.9,846.4 C 951.6,847.1 937.7,854.9 929.1,868.6 C 924.3,863.6 920.4,854.9 920.0,847.1 Z"/>
<path class="l" d="M 918.2,835.9 C 929.1,834.7 946.4,834.0 953.5,834.7"/>
<path class="w" d="M 928.4,868.6 C 932.5,860.1 941.2,849.7 951.6,847.3 C 955.1,846.4 960.3,846.3 963.8,846.7 L 963.8,883.1 L 952.5,882.2 L 946.4,870.5 Z" style="stroke:none"/>
<path class="l" d="M 928.4,868.6 C 932.5,860.1 941.2,849.7 951.6,847.3 C 955.1,846.4 960.3,846.3 963.8,846.7"/>
<path class="w" d="M 978.9,870.5 C 981.5,879.2 981.1,892.2 985.4,900.9 C 987.2,905.2 989.8,907.8 992.8,906.9 L 975.9,913.0 L 960.3,915.6 C 955.1,910.4 952.5,896.5 946.4,874.0 Z" style="stroke:none"/>
<path class="l" d="M 978.9,870.5 C 981.5,879.2 981.1,892.2 985.4,900.9 C 987.2,905.2 989.8,907.8 992.8,906.9"/>
<ellipse class="w" cx="962.9" cy="864.9" rx="14.7" ry="18.6" transform="rotate(8 962.9 864.9)"/>
<ellipse class="l" cx="962.9" cy="865.3" rx="12.7" ry="16.6" transform="rotate(8 962.9 865.3)"/>
<ellipse class="l" cx="963.3" cy="865.8" rx="11.0" ry="14.9" transform="rotate(8 963.3 865.8)"/>
<path class="l" d="M 958.1,852.5 C 961.8,860.1 961.8,870.5 957.7,878.5"/>
<path class="l" d="M 947.3,875.7 C 949.0,880.1 953.3,884.4 960.3,887.0 M 977.6,874.0 C 975.5,879.2 971.1,883.1 967.2,884.8 M 946.4,870.5 C 946.8,874.0 947.7,877.5 949.9,880.5 M 979.4,871.4 C 978.5,877.5 974.2,883.5 969.0,886.1"/>
<path class="w" d="M 908.7,868.8 L 945.5,870.4 L 947.3,878.3 C 950.7,896.5 953.3,908.7 960.3,915.6 L 927.8,919.5 L 919.1,919.1 L 912.2,913.9 L 905.7,913.9 C 910.0,913.0 912.2,910.4 912.6,905.2 L 907.8,880.9 L 909.6,877.9 L 907.2,874.4 Z"/>
<path class="l" d="M 922.1,869.7 L 919.1,919.1 M 929.5,870.1 L 927.8,919.5 M 930.8,870.3 L 945.5,913.9 M 919.1,919.1 L 927.8,919.5 L 945.5,913.9"/>
<path class="l" d="M 908.7,868.8 L 945.5,870.4" style="stroke-width:1.8"/>
<path class="l" d="M 959.4,884.8 L 962.9,890.9 M 967.2,885.4 L 970.3,892.2 M 962.9,890.9 L 967.2,889.8 M 963.8,893.9 L 968.1,892.9 M 962.5,887.9 L 966.4,887.0"/>
<path class="w" d="M 969.0,894.8 C 965.5,893.9 963.3,896.5 963.8,901.7 C 964.2,906.1 967.2,908.2 970.3,907.8 Z"/>
<ellipse class="w" cx="971.7" cy="901.3" rx="5.2" ry="6.9" transform="rotate(5 971.7 901.3)"/>
<path class="l" d="M 954.2,901.9 C 957.7,900.2 960.3,899.3 963.8,898.4 M 975.9,895.8 C 978.5,895.0 981.1,894.1 982.6,893.6 M 954.2,901.9 C 955.1,908.7 958.5,913.9 962.5,915.8"/>
<path class="w" d="M 896.6,921.2 L 905.7,913.9 L 912.2,913.9 L 919.1,919.1 L 927.8,919.5 L 945.5,913.9 L 960.3,915.6 L 975.9,912.8 L 975.0,913.9 L 978.1,922.1 L 939.0,933.4 L 898.3,932.1 Z" style="stroke:none"/>
<path class="l" d="M 912.2,913.9 L 905.7,913.9 L 896.6,921.2 L 936.0,923.8 L 975.0,913.9 L 976.1,912.7"/>
<path class="l" d="M 896.6,921.2 L 898.3,932.1 L 939.0,933.4 L 936.0,923.8 M 939.0,933.4 L 976.8,925.1 L 975.0,913.9 M 970.3,916.5 L 971.6,925.6"/>
<ellipse class="l" cx="910.4" cy="917.9" rx="2.8" ry="0.9" transform="rotate(-12 910.4 917.9)" style="fill:#2b2a29"/>
<ellipse class="l" cx="945.5" cy="919.6" rx="2.8" ry="0.9" transform="rotate(-12 945.5 919.6)" style="fill:#2b2a29"/>
<path class="w" d="M 987.2,900.2 L 1003.6,900.9 L 1005.5,902.3 L 1005.8,910.8 L 989.8,921.2 L 978.1,922.1 L 975.0,913.9 L 975.9,910.4 L 988.9,909.5 Z" style="stroke:none"/>
<path class="l" d="M 987.6,900.2 L 1003.6,900.9 L 1005.5,902.3 L 988.9,909.7 L 975.5,908.8 M 1005.5,902.3 L 1005.8,910.8 L 989.8,921.2 L 978.1,922.1 M 988.9,909.7 L 989.8,921.2 M 984.6,910.6 L 986.5,921.5 M 993.2,907.8 L 994.3,918.2 M 983.3,910.4 L 985.4,921.7 M 975.9,910.4 L 978.1,922.1"/>
<ellipse class="l" cx="990.8" cy="903.1" rx="2.4" ry="0.8" transform="rotate(-5 990.8 903.1)" style="fill:#2b2a29"/>
<path class="l" d="M 1028.0,942.5 L 1028.0,966.0" style="stroke-width:1.6"/>
<path class="k" d="M 1022.4,963.7 L 1033.6,963.7 L 1028.0,982.2 Z"/>
<path class="l" d="M 1034.3,1092.0 L 1034.3,1113.0" style="stroke-width:2.2;stroke-linecap:butt"/>
<path class="k" d="M 1034.3,1074.8 L 1040.0,1092.3 L 1028.6,1092.3 Z"/>
<path class="l" d="M 1034.3,1148.0 L 1034.3,1169.5" style="stroke-width:2.2;stroke-linecap:butt"/>
<path class="k" d="M 1034.3,1131.0 L 1040.0,1148.8 L 1028.6,1148.8 Z"/>
<path class="l" d="M 912.3,1103.9 L 938.6,1094.2 L 951.7,1094.7 L 968.8,1097.3 L 1018.1,1093.1 L 949.8,1116.5 L 912.1,1117.4 Z M 912.3,1103.9 L 941.9,1104.4 L 942.8,1103.1 L 951.7,1102.6 L 953.3,1103.6 L 987.9,1102.6 M 942.8,1103.1 L 944.9,1105.1 L 951.5,1105.1 L 953.3,1103.6"/>
<ellipse class="l" cx="940.6" cy="1099.4" rx="8.4" ry="4.1" transform="rotate(-2 940.6 1099.4)"/>
<path class="l" d="M 949.1,1099.7 L 966.9,1097.3 M 949.8,1101.7 L 967.5,1099.3 M 951.7,1096.8 L 951.7,1101.7 M 955.0,1096.4 L 955.0,1101.3 M 958.3,1096.0 L 958.3,1101.0 M 961.6,1096.0 L 961.6,1100.6 M 964.9,1096.0 L 964.9,1100.1" style="stroke-width:0.8"/>
<path class="l" d="M 924.4,1147.0 L 955.7,1133.9 L 963.6,1133.2 L 991.2,1139.1 L 995.1,1157.5 L 989.8,1160.8 L 976.7,1164.1 L 936.0,1168.3 L 928.4,1167.4 Z M 924.4,1147.0 L 933.4,1148.3 L 975.4,1145.0 L 991.2,1139.1 M 933.4,1148.3 L 936.2,1168.3 M 975.4,1145.0 L 976.7,1164.1"/>
<path class="l" d="M 929.4,1146.1 L 957.0,1135.2 L 987.2,1139.9 M 946.5,1141.5 L 955.7,1135.4 M 946.5,1141.5 L 953.1,1145.7 L 968.8,1144.4 L 974.1,1138.7 M 947.8,1138.1 L 951.7,1144.4 M 968.8,1137.1 L 974.1,1138.7 M 974.1,1138.7 L 982.0,1141.7 M 980.6,1139.1 L 976.7,1144.6"/>
<ellipse class="l" cx="959.6" cy="1141.2" rx="5.9" ry="2.8" transform="rotate(-3 959.6 1141.2)"/>
<path class="l" d="M 949.8,1196.7 L 955.7,1185.1 L 972.5,1184.8 L 979.3,1202.4 L 968.8,1208.7 L 955.7,1207.4 Z M 949.8,1196.7 L 956.3,1214.3 L 968.8,1215.3 L 978.3,1209.4 L 979.3,1202.4 M 955.7,1207.4 L 956.3,1214.3 M 968.8,1208.7 L 968.8,1215.3"/>
<ellipse class="l" cx="963.0" cy="1196.4" rx="8.4" ry="8.4" transform="rotate(0 963.0 1196.4)"/>
<path class="l" d="M 956.7,1238.3 C 965.0,1238.0 973.3,1235.0 980.0,1229.5 C 986.7,1223.3 991.0,1216.0 994.0,1208.3 M 994.0,1206.5 L 991.5,1212.0 M 994.0,1206.5 L 995.5,1212.0"/>
<path class="sp3" d="M 1300.0,547.0 L 1340.0,520.8 L 1412.5,497.0 L 1416.7,499.0 L 1395.0,515.8 Z"/>
<path class="l" d="M 1275.0,545.0 L 1483.3,401.7" style="stroke-width:1.9;stroke:#1f1e1d"/>
<path class="l" d="M 1276.7,547.4 L 1485.0,404.1" style="stroke-width:0.9;stroke:#6e6d6c"/>
<path class="l" d="M 1277.4,548.5 L 1485.8,405.2" style="stroke-width:0.9;stroke:#6e6d6c"/>
<path class="l" d="M 1300.0,545.3 L 1491.0,413.7" style="stroke-width:1.8;stroke:#1f1e1d"/>
<path class="l" d="M 1301.7,583.7 L 1506.7,434.2" style="stroke-width:1.9;stroke:#1f1e1d"/>
<path class="l" d="M 1303.4,586.0 L 1508.4,436.5" style="stroke-width:0.9;stroke:#6e6d6c"/>
<path class="l" d="M 1304.2,587.1 L 1509.2,437.6" style="stroke-width:0.9;stroke:#6e6d6c"/>
<path class="l" d="M 1313.3,590.5 L 1515.0,445.5" style="stroke-width:1.8;stroke:#1f1e1d"/>
<path class="l" d="M 1272.0,556.3 L 1397.5,514.7" style="stroke:#fff;stroke-width:2.6"/>
<path class="sp3" d="M 1271.3,558.0 L 1397.5,516.3 L 1400.8,527.5 L 1276.3,568.7 C 1272.5,567.5 1270.3,561.7 1271.3,558.0 Z"/>
<ellipse class="w" cx="1402.0" cy="522.0" rx="3.7" ry="5.0" transform="rotate(-20 1402.0 522.0)"/>
<path class="l" d="M 1404.2,516.7 L 1409.2,514.7 C 1412.5,515.8 1413.3,521.7 1410.8,524.2 L 1405.3,526.7 M 1408.3,515.0 C 1410.8,516.7 1411.3,522.5 1409.2,525.0"/>
<path class="l" d="M 1415.0,495.3 C 1415.8,493.3 1419.2,493.0 1420.3,494.7 M 1416.7,498.3 L 1420.3,494.7"/>
<path class="l" d="M 1266.7,550.0 C 1267.5,547.5 1270.0,546.7 1271.7,548.3 M 1275.0,544.2 C 1276.7,541.7 1280.0,540.8 1282.5,542.5 M 1280.8,538.3 C 1282.5,535.8 1285.8,535.8 1287.0,538.3 L 1276.7,550.0 M 1270.0,555.0 L 1283.3,540.0"/>
<path class="w" d="M 1483.5,408.3 L 1487.9,399.2 L 1495.0,391.0 L 1520.0,389.2 L 1550.8,420.0 L 1528.3,429.2 L 1522.5,442.1 L 1517.5,444.3 L 1510.4,440.2 L 1503.3,432.5 Z" style="stroke:none"/>
<path class="l" d="M 1483.5,408.8 L 1503.3,432.5 L 1510.4,440.2 L 1517.5,444.3 L 1522.5,442.1 L 1523.3,440.0 L 1528.3,429.2 L 1544.2,415.2 L 1518.3,409.6 L 1501.2,420.4 L 1503.3,432.5" style="stroke-width:1.4"/>
<path class="l" d="M 1490.0,404.2 L 1518.3,409.6 M 1487.5,400.0 L 1495.0,391.0 L 1505.0,393.3 M 1487.9,399.2 L 1483.5,408.8 M 1544.2,415.2 L 1550.8,420.0 L 1520.4,389.2 M 1528.3,429.2 L 1530.0,427.5 L 1531.7,429.2 L 1523.3,440.0" style="stroke-width:1.2"/>
<ellipse class="w" cx="1489.2" cy="407.9" rx="6.0" ry="3.8" transform="rotate(33 1489.2 407.9)" style="stroke-width:1.8;stroke:#1f1e1d"/>
<ellipse class="l" cx="1489.5" cy="408.1" rx="4.0" ry="2.3" transform="rotate(33 1489.5 408.1)" style="fill:#3a3938"/>
<ellipse class="w" cx="1515.0" cy="437.9" rx="6.0" ry="3.8" transform="rotate(33 1515.0 437.9)" style="stroke-width:1.8;stroke:#1f1e1d"/>
<ellipse class="l" cx="1515.3" cy="438.1" rx="4.0" ry="2.3" transform="rotate(33 1515.3 438.1)" style="fill:#3a3938"/>
<ellipse class="w" cx="1518.8" cy="428.5" rx="5.8" ry="4.3" transform="rotate(22 1518.8 428.5)"/>
<path class="l" d="M 1513.3,421.7 C 1514.0,420.2 1515.4,419.8 1516.2,420.7" style="stroke-width:2"/>
<path class="l" d="M 1480.0,375.0 C 1479.2,381.7 1483.3,388.3 1486.7,395.0 M 1481.7,388.3 C 1482.5,393.3 1483.3,396.7 1485.0,399.2 M 1505.0,397.5 C 1506.7,394.2 1511.7,392.5 1515.0,394.2 C 1518.3,395.8 1520.0,400.0 1523.3,405.0 M 1508.3,399.2 L 1515.0,406.7 M 1511.7,393.3 L 1530.0,410.0 M 1520.0,393.3 L 1533.3,406.7 M 1523.3,391.7 L 1538.3,410.0 M 1515.0,388.3 L 1505.0,395.0 M 1528.3,395.0 L 1531.7,403.3 L 1536.7,405.0 M 1493.3,396.7 C 1496.7,399.2 1501.7,401.7 1506.7,405.0" style="stroke-width:1.1"/>
<path class="l" d="M 1529.6,394.2 L 1535.8,399.2" style="stroke-width:4"/>
<path class="l" d="M 1284.0,566.4 L 1299.5,586.5" style="stroke-width:1.6"/>
<path class="l" d="M 1296.4,564.0 L 1308.3,574.9" style="stroke-width:2;stroke:#4a4948"/>
<path class="l" d="M 1287.1,568.3 C 1291.7,571.0 1294.4,573.3 1294.4,577.2 L 1293.3,578.7"/>
<ellipse class="w" cx="1300.6" cy="593.4" rx="5.6" ry="3.2" transform="rotate(25 1300.6 593.4)" style="stroke-width:1.8"/>
<ellipse class="l" cx="1301.0" cy="593.6" rx="3.6" ry="1.9" transform="rotate(25 1301.0 593.6)" style="fill:#4a4948"/>
<path class="l" d="M 1299.5,582.8 L 1295.6,590.7 M 1311.1,594.6 L 1309.9,597.3"/>
<path class="b" d="M 1488.9,358.4 C 1479.1,359.8 1470.2,359.3 1468.4,354.0 C 1470.2,346.0 1486.2,319.3 1498.7,298.0 C 1504.0,283.8 1518.2,267.8 1541.3,262.4 C 1555.5,261.6 1568.0,269.6 1575.1,276.7 C 1587.5,288.2 1600.0,301.5 1617.7,312.2 C 1632.0,320.2 1649.7,324.7 1662.2,328.2 C 1680.0,332.7 1697.7,342.4 1710.2,351.3 C 1724.4,362.0 1731.5,378.0 1735.1,392.2 C 1740.4,410.0 1747.5,436.6 1752.8,454.4 C 1754.6,463.3 1749.3,470.4 1738.6,472.2 C 1733.3,472.2 1730.6,469.5 1729.7,466.0"/>
<path class="b" d="M 1499.5,328.2 C 1495.1,340.7 1490.7,353.1 1490.1,363.8 C 1490.1,372.6 1493.3,378.0 1500.4,379.8 C 1511.1,381.5 1521.8,380.6 1528.9,381.9 C 1536.0,383.7 1543.1,387.8 1550.2,392.2"/>
<path class="b" d="M 1529.8,393.1 C 1536.0,397.5 1544.9,398.4 1551.1,391.3"/>
<path class="k" d="M 1496.5,386.5 L 1501.5,381.2 L 1502.6,387.2 Z"/>
<path class="b" d="M 1573.3,330.0 C 1568.0,338.9 1562.6,347.8 1558.2,356.6 C 1557.3,360.2 1556.4,363.8 1555.5,365.5"/>
<path class="b" d="M 1562.6,349.5 L 1564.4,363.8 C 1565.3,370.9 1567.1,374.4 1571.5,375.3"/>
<path class="b" d="M 1571.5,353.1 L 1573.3,363.8 M 1575.1,374.4 L 1577.8,361.1 L 1587.5,362.0 L 1591.1,356.6"/>
<path class="b" d="M 1589.3,331.8 L 1592.0,370.9 L 1587.5,372.6 C 1582.2,374.4 1578.6,377.1 1576.9,379.8"/>
<path class="b" d="M 1620.4,346.0 C 1614.2,349.5 1607.1,358.4 1600.0,370.9 M 1605.3,346.9 C 1602.6,353.1 1600.9,358.4 1600.0,363.8"/>
<path class="b" d="M 1602.6,390.4 L 1603.5,404.6 M 1592.0,397.5 L 1592.9,406.4"/>
<path class="b" d="M 1679.1,404.6 L 1677.8,456.2 L 1674.3,516.6 L 1671.1,557.1"/>
<path class="b" d="M 1728.8,381.5 L 1728.8,408.2 M 1728.8,425.1 L 1728.8,463.3 L 1726.2,499.9 L 1719.1,502.6"/>
<path class="b" d="M 1713.7,426.0 L 1717.3,512.4 L 1710.2,517.7 L 1701.3,516.8"/>
<path class="b" d="M 1568.0,406.4 C 1567.1,418.9 1569.8,431.3 1575.1,435.9"/>
<path class="b" d="M 1576.9,420.6 C 1572.4,427.7 1572.4,434.9 1576.9,438.4"/>
<path class="b" d="M 1581.3,461.8 L 1574.2,521.7 L 1604.4,524.0 M 1600.9,443.1 C 1604.4,452.0 1606.7,466.2 1607.1,478.7 L 1608.0,527.5 L 1589.0,533.8 M 1588.4,524.0 L 1585.8,541.8"/>
<path class="b" d="M 1682.6,491.1 L 1683.9,505.3 C 1686.2,526.6 1687.4,544.4 1686.2,556.0 L 1671.1,557.2"/>
<path class="b" d="M 1671.1,557.2 L 1669.3,567.5 C 1653.3,569.3 1644.4,574.6 1632.0,578.2 C 1623.1,579.1 1617.7,572.9 1616.0,567.5 C 1610.6,558.6 1605.3,551.5 1598.2,546.2 C 1592.9,542.6 1587.5,542.6 1585.8,541.8"/>
<path d="M1457.3,272.9 L1773.8,615.4" stroke="#2b2a29" stroke-width="19.8" fill="none"/>
<path d="M1748,265.6 L1429.7,608.5" stroke="#2b2a29" stroke-width="19.8" fill="none"/>
<path class="sp3" d="M 1308.3,999.2 L 1350.0,971.7 L 1436.7,944.2 L 1440.3,946.7 L 1414.2,967.0 Z"/>
<path class="l" d="M 1275.0,1002.6 L 1509.0,841.5" style="stroke-width:1.9;stroke:#1f1e1d"/>
<path class="l" d="M 1276.6,1005.0 L 1510.6,843.9" style="stroke-width:0.9;stroke:#6e6d6c"/>
<path class="l" d="M 1277.4,1006.1 L 1511.4,845.0" style="stroke-width:0.9;stroke:#6e6d6c"/>
<path class="l" d="M 1305.0,1003.0 L 1523.3,849.6" style="stroke-width:1.8;stroke:#1f1e1d"/>
<path class="l" d="M 1303.0,1044.3 L 1548.0,868.0" style="stroke-width:1.9;stroke:#1f1e1d"/>
<path class="l" d="M 1304.7,1046.7 L 1549.7,870.4" style="stroke-width:0.9;stroke:#6e6d6c"/>
<path class="l" d="M 1305.5,1047.8 L 1550.5,871.5" style="stroke-width:0.9;stroke:#6e6d6c"/>
<path class="l" d="M 1320.0,1052.7 L 1418.0,981.5 M 1432.0,971.3 L 1558.0,879.8" style="stroke-width:1.8;stroke:#1f1e1d"/>
<path class="l" d="M 1276.7,1011.7 L 1418.3,966.0" style="stroke:#fff;stroke-width:2.6"/>
<path class="sp3" d="M 1276.7,1012.0 L 1418.3,968.0 L 1421.7,978.3 L 1280.8,1024.2 C 1277.5,1021.7 1275.8,1016.7 1276.7,1012.0 Z"/>
<ellipse class="w" cx="1424.2" cy="973.3" rx="4.0" ry="5.7" transform="rotate(-25 1424.2 973.3)"/>
<path class="l" d="M 1425.8,968.0 L 1432.5,963.0 C 1436.7,964.2 1438.0,970.8 1435.0,973.3 L 1428.0,978.3 M 1430.8,963.7 C 1434.7,965.3 1435.3,971.7 1433.0,974.3"/>
<path class="l" d="M 1441.7,942.0 C 1442.0,939.7 1445.3,939.0 1446.7,941.0 M 1440.0,946.7 L 1446.7,941.0"/>
<path class="l" d="M 1270.0,1004.2 C 1270.8,1001.7 1273.3,1000.8 1275.0,1002.5 M 1279.2,998.3 C 1280.8,995.8 1284.2,995.0 1286.7,996.7 M 1287.5,990.8 C 1289.2,988.3 1292.5,988.3 1293.7,990.8 L 1280.0,1004.2 M 1273.3,1009.2 L 1290.0,992.5"/>
<path class="l" d="M 1288.7,1023.3 L 1308.7,1046.5" style="stroke-width:1.6"/>
<path class="l" d="M 1304.2,1018.7 L 1318.0,1033.3" style="stroke-width:2;stroke:#4a4948"/>
<path class="l" d="M 1293.3,1023.3 C 1298.3,1026.3 1302.5,1029.2 1302.5,1031.7 L 1301.7,1034.2"/>
<ellipse class="w" cx="1308.7" cy="1054.2" rx="6.0" ry="3.7" transform="rotate(25 1308.7 1054.2)" style="stroke-width:1.8"/>
<ellipse class="l" cx="1309.0" cy="1054.3" rx="3.7" ry="2.0" transform="rotate(25 1309.0 1054.3)" style="fill:#4a4948"/>
<path class="l" d="M 1308.7,1041.0 L 1305.0,1051.3 M 1319.7,1052.7 L 1318.3,1055.8"/>
<path class="w" d="M 1656.7,790.8 L 1771.7,808.3 C 1776.7,810.0 1779.2,815.0 1778.3,820.0 C 1775.0,841.7 1760.0,870.0 1740.0,893.3 C 1726.7,908.3 1713.3,921.7 1696.7,935.0 C 1680.0,948.3 1656.7,963.3 1633.3,973.3 C 1626.7,975.8 1621.7,975.0 1619.7,973.3 L 1606.7,915.7 L 1595.0,856.7 Z" style="stroke-width:0.95"/>
<path class="l" d="M 1776.0,815.0 C 1772.5,840.0 1756.7,868.3 1736.7,891.7 C 1723.3,906.7 1710.0,920.0 1693.3,933.3 C 1676.7,946.7 1655.0,960.0 1635.0,970.0" style="stroke-width:0.95"/>
<path class="w" d="M 1520.8,773.3 L 1535.0,793.3 L 1558.3,819.2 L 1596.7,855.8 C 1610.0,854.2 1638.3,830.0 1653.3,806.7 C 1655.8,801.7 1657.0,795.8 1656.7,790.8 L 1621.7,761.7 L 1570.8,722.5 L 1519.2,770.0 Z"/>
<path class="l" d="M 1538.3,793.3 L 1560.0,816.7" style="stroke-width:2.6"/>
<path class="w" d="M 1519.2,770.0 C 1517.5,763.3 1530.0,741.7 1546.7,727.5 C 1555.0,720.8 1563.3,717.5 1566.7,719.2 C 1570.0,720.0 1571.3,721.7 1570.8,723.3 C 1570.0,733.3 1558.3,750.0 1543.3,763.3 C 1535.0,770.0 1525.0,775.0 1520.8,773.3 Z"/>
<path class="l" d="M 1522.5,766.7 C 1523.3,758.3 1533.3,743.3 1548.3,730.8 C 1555.0,725.0 1561.7,721.7 1565.0,722.5 C 1567.5,725.0 1558.3,741.7 1545.0,755.0 C 1536.7,763.3 1527.5,769.2 1522.5,766.7 Z"/>
<path class="l" d="M 1525.0,764.2 L 1535.0,750.0 L 1537.5,752.5 L 1528.3,765.0 Z M 1550.0,731.7 L 1562.5,723.3 L 1560.0,728.3 L 1551.7,735.8 Z M 1538.3,748.3 L 1544.2,740.8 L 1546.7,743.3 L 1540.8,750.0 Z" style="fill:#3a3938"/>
<path class="w" d="M 1521.7,725.0 L 1527.5,721.3 L 1546.7,734.2 L 1540.8,744.2 L 1523.7,731.7 Z"/>
<path class="l" d="M 1527.5,721.3 L 1529.7,727.5 L 1523.7,731.7 M 1529.7,727.5 L 1544.2,738.7"/>
<path class="l" style="stroke-width:1.5" d="M1544.1,792.6 L1565.7,815.7 A1.8,1.8 0 0 0 1568.4,813.2 L1546.8,790.1 A1.8,1.8 0 0 0 1544.1,792.6 Z"/>
<path class="l" style="stroke-width:1.5" d="M1554.1,786.1 L1575.5,808.3 A3.2,3.2 0 0 0 1580.1,803.9 L1558.6,781.7 A3.2,3.2 0 0 0 1554.1,786.1 Z"/>
<path class="l" style="stroke-width:1.5" d="M1565.1,776.4 L1587.0,797.6 A3.3,3.3 0 0 0 1591.6,792.8 L1569.7,771.6 A3.3,3.3 0 0 0 1565.1,776.4 Z"/>
<path class="l" style="stroke-width:1.5" d="M1575.2,764.7 L1597.8,785.2 A3.3,3.3 0 0 0 1602.3,780.3 L1579.7,759.8 A3.3,3.3 0 0 0 1575.2,764.7 Z"/>
<path class="l" style="stroke-width:1.5" d="M1584.4,753.4 L1607.4,773.6 A3.0,3.0 0 0 0 1611.4,769.1 L1588.4,748.9 A3.0,3.0 0 0 0 1584.4,753.4 Z"/>
<path class="l" style="stroke-width:1.5" d="M1589.4,742.3 L1614.3,762.7 A1.7,1.7 0 0 0 1616.4,760.2 L1591.5,739.8 A1.7,1.7 0 0 0 1589.4,742.3 Z"/>
<path class="l" d="M 1573.3,780.0 L 1577.5,783.3 M 1584.2,765.8 L 1588.3,770.0 M 1595.0,755.8 L 1597.5,758.7"/>
<ellipse class="l" cx="1615.3" cy="836.7" rx="3.2" ry="3.2" transform="rotate(0 1615.3 836.7)"/>
<path class="l" d="M 1613.7,836.3 L 1617.0,835.3 M 1615.8,838.0 L 1616.7,836.3"/>
<path class="l" d="M 1530.0,790.0 C 1523.3,792.5 1515.8,796.7 1511.7,801.7 C 1509.2,805.0 1510.0,809.2 1512.5,813.3 C 1515.8,818.3 1520.0,825.0 1521.7,831.7"/>
<path class="l" d="M 1533.7,792.7 C 1527.5,795.0 1520.0,799.2 1515.8,803.7 C 1513.8,806.7 1514.2,809.7 1516.3,813.3 C 1520.0,818.7 1523.7,824.2 1525.0,830.3"/>
<path class="w" d="M 1517.5,838.3 L 1521.7,833.3 L 1530.0,835.0 L 1586.7,850.0 L 1566.7,868.3 L 1561.7,880.8 L 1553.3,882.5 L 1546.7,876.7 L 1537.5,865.0 L 1517.5,842.0 Z"/>
<path class="l" d="M 1537.5,857.5 L 1558.3,845.0 L 1586.7,850.0 M 1537.5,857.5 L 1538.3,865.3 M 1530.0,835.0 L 1558.3,845.0"/>
<ellipse class="w" cx="1524.2" cy="839.2" rx="5.7" ry="4.0" transform="rotate(30 1524.2 839.2)" style="stroke-width:1.8"/>
<ellipse class="l" cx="1524.5" cy="839.3" rx="3.3" ry="2.2" transform="rotate(30 1524.5 839.3)" style="fill:#3a3938"/>
<ellipse class="w" cx="1554.2" cy="875.0" rx="5.7" ry="4.0" transform="rotate(30 1554.2 875.0)" style="stroke-width:1.8"/>
<ellipse class="l" cx="1554.5" cy="875.2" rx="3.3" ry="2.2" transform="rotate(30 1554.5 875.2)" style="fill:#3a3938"/>
<ellipse class="w" cx="1557.5" cy="865.0" rx="5.3" ry="4.3" transform="rotate(15 1557.5 865.0)"/>
<path class="l" d="M 1551.7,856.7 C 1552.5,855.0 1554.2,855.0 1554.7,856.3" style="stroke-width:1.8"/>
<path class="l" d="M 1563.3,866.7 L 1568.3,864.2 L 1566.7,870.0"/>
<path class="l" d="M 1530.0,824.2 C 1535.0,821.7 1541.7,822.5 1546.7,826.7 M 1531.7,826.7 L 1546.7,826.7 C 1551.7,823.3 1558.3,824.2 1561.7,828.3 L 1573.3,838.3 M 1546.7,826.7 L 1553.3,833.3 L 1566.7,841.7 L 1580.0,846.7 M 1553.3,823.3 C 1558.3,820.0 1563.3,821.7 1566.7,826.7 L 1578.3,841.7 M 1535.0,830.0 C 1540.0,831.7 1543.3,835.0 1545.0,838.3 M 1558.3,833.3 C 1561.7,831.7 1565.0,833.3 1565.8,836.7 M 1570.0,833.3 L 1575.0,843.3 M 1521.7,833.3 C 1525.0,828.3 1528.3,825.0 1530.0,824.2"/>
<path class="k" d="M 1750.3,716.5 L 1766.0,730.6 L 1543.6,1016.0 L 1435.8,903.4 L 1449.4,890.6 L 1543.3,984.3 Z" style="fill:#1c1a1b;opacity:0.96"/>
</svg>
</body></html>
